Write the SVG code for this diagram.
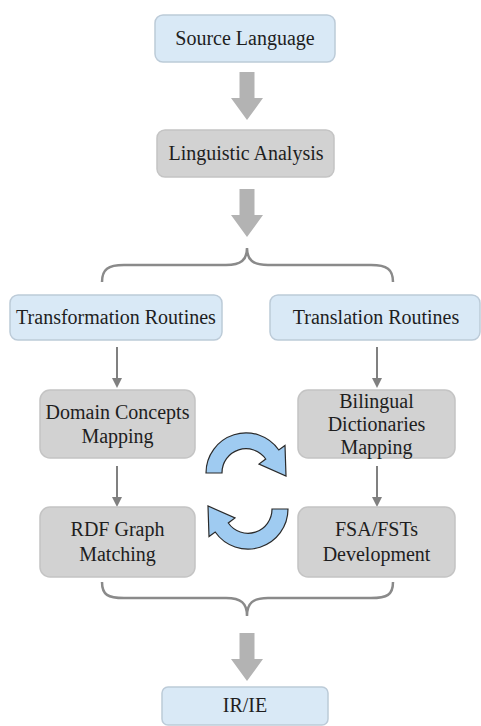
<svg xmlns="http://www.w3.org/2000/svg" width="481" height="726" viewBox="0 0 481 726">
<style>
.blue{fill:#d9e9f6;stroke:#bccbd8;stroke-width:1.5}
.gray{fill:#d2d2d2;stroke:#c4c4c4;stroke-width:1.5}
.t{font-family:'Liberation Serif','Times New Roman','DejaVu Serif',serif;font-size:20px;fill:#1e1e1e;text-anchor:middle}
.d{font-family:'DejaVu Serif',serif;font-size:17px}
.big{fill:#b3b3b3}
.thin{stroke:#808080;stroke-width:2;fill:none}
.brace{stroke:#8a8a8a;stroke-width:2.5;fill:none}
.cyc{fill:#9fcbf1;stroke:#2a2a2a;stroke-width:1.2}
</style>
<defs>
<marker id="ah" markerWidth="10" markerHeight="10" refX="5" refY="5" orient="auto" markerUnits="userSpaceOnUse" viewBox="0 0 10 10">
<path d="M0,0 L10,5 L0,10 Z" fill="#808080"/>
</marker>
<path id="bigarrow" d="M-7.5,0 L7.5,0 L7.5,26 L16,26 L0,48 L-16,26 L-7.5,26 Z"/>
<path id="cycle" d="M206,473 A40,40 0 0 1 278.8,450 L285,445.5 L286,476 L259,464 L265.7,459 A24,24 0 0 0 222,473 Z"/>
</defs>
<g id="connectors">
<use href="#bigarrow" class="big" x="247" y="72"/>
<use href="#bigarrow" class="big" x="247" y="189"/>
<use href="#bigarrow" class="big" x="247" y="633"/>
<path class="brace" d="M102,282 C102,269 108,265 124,265 L226,265 C241,265 247,260 247,248 C247,260 253,265 268,265 L371,265 C387,265 393,269 393,282"/>
<path class="brace" d="M102,582 C102,595 108,598 124,598 L226,598 C241,598 247,603 247,616 C247,603 253,598 268,598 L371,598 C387,598 393,595 393,582"/>
<line class="thin" x1="117" y1="347" x2="117" y2="383" marker-end="url(#ah)"/>
<line class="thin" x1="377" y1="347" x2="377" y2="383" marker-end="url(#ah)"/>
<line class="thin" x1="117" y1="466" x2="117" y2="502" marker-end="url(#ah)"/>
<line class="thin" x1="377" y1="466" x2="377" y2="502" marker-end="url(#ah)"/>
<use href="#cycle" class="cyc"/>
<use href="#cycle" class="cyc" transform="rotate(180 247 491)"/>
</g>
<g id="source"><rect class="blue" x="155" y="15" width="180" height="47" rx="8"/><text class="t" x="245" y="45">Source Language</text></g>
<g id="linguistic"><rect class="gray" x="157" y="130" width="177" height="47" rx="8"/><text class="t" x="246" y="160">Linguistic Analysis</text></g>
<g id="transformation"><rect class="blue" x="10" y="295" width="212" height="45" rx="8"/><text class="t" x="116" y="324">Transformation Routines</text></g>
<g id="translation"><rect class="blue" x="270" y="295" width="210" height="45" rx="8"/><text class="t" x="376" y="324">Translation Routines</text></g>
<g id="domain"><rect class="gray" x="40" y="390" width="155" height="68" rx="10"/><text class="t" x="117.5" y="419">Domain Concepts</text><text class="t" x="117.5" y="443">Mapping</text></g>
<g id="bilingual"><rect class="gray" x="298" y="390" width="157" height="68" rx="10"/><text class="t" x="376.5" y="408">Bilingual</text><text class="t" x="376.5" y="431">Dictionaries</text><text class="t" x="376.5" y="454">Mapping</text></g>
<g id="rdf"><rect class="gray" x="40" y="507" width="155" height="70" rx="10"/><text class="t" x="117.5" y="536">RDF Graph</text><text class="t" x="117.5" y="561">Matching</text></g>
<g id="fsa"><rect class="gray" x="298" y="507" width="157" height="70" rx="10"/><text class="t" x="376.5" y="536">FSA/FSTs</text><text class="t" x="376.5" y="561">Development</text></g>
<g id="irie"><rect class="blue" x="162" y="687" width="166" height="38" rx="6"/><text class="t" x="245" y="712">IR/IE</text></g>
</svg>
